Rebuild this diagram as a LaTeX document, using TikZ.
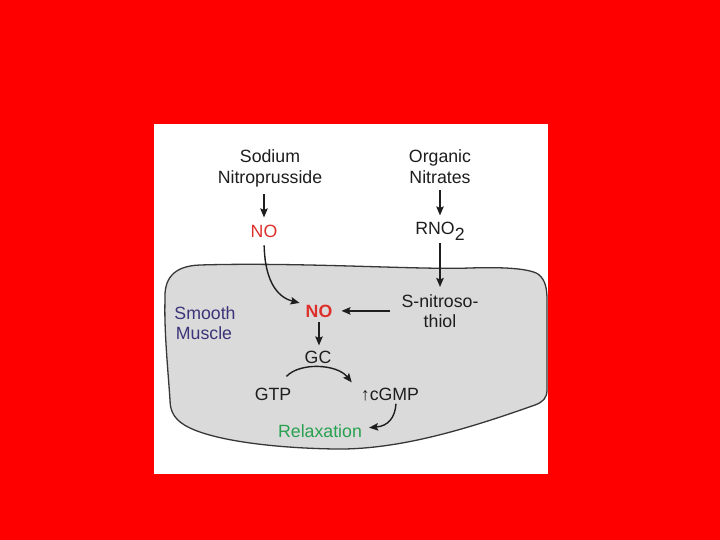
\documentclass[tikz,border=0pt]{standalone}
\usepackage{fontspec}
\setmainfont{Liberation Sans}
\usetikzlibrary{arrows.meta}
\definecolor{bgred}{RGB}{255,0,0}
\definecolor{cellgray}{RGB}{218,218,218}
\definecolor{edgegray}{RGB}{55,55,55}
\definecolor{nored}{RGB}{222,48,42}
\definecolor{relgreen}{RGB}{40,160,80}
\definecolor{musblue}{RGB}{60,52,120}
\definecolor{txt}{RGB}{30,30,30}
\begin{document}
\begin{tikzpicture}[x=1bp,y=-1bp,
  lbl/.style={inner sep=0pt, anchor=base, text=txt, font=\fontsize{17.8}{21}\selectfont},
  arr/.style={line width=1.4bp, draw=txt, -{Stealth[length=9bp,width=7.5bp,inset=1.5bp]}}]
\useasboundingbox (0,0) rectangle (720,540);
\fill[bgred] (0,0) rectangle (720,540);
\fill[white] (154,124) rectangle (548,474);
% cell
\filldraw[fill=cellgray, draw=edgegray, line width=1.3bp]
  (165,300) .. controls (164,280) and (172,266) .. (200,265)
  .. controls (300,262) and (420,270) .. (470,268)
  .. controls (500,267) and (528,268) .. (538,274)
  .. controls (546,280) and (547,290) .. (547,300)
  -- (547,390)
  .. controls (547,398) and (543,402) .. (535,405)
  .. controls (470,428) and (400,450) .. (335,449)
  .. controls (270,448) and (215,440) .. (190,428)
  .. controls (175,421) and (170,412) .. (170,400)
  .. controls (168,370) and (164,330) .. (165,300) -- cycle;
% labels
\node[lbl] (sod) at (270,163) {Sodium};
\node[lbl] (nitro) at (270,184) {Nitroprusside};
\node[lbl, text=nored] (no1) at (264,238) {NO};
\node[lbl] (org) at (440,163) {Organic};
\node[lbl] (nitr) at (440,184) {Nitrates};
\node[lbl] (rno) at (440,235) {RNO\raisebox{-6bp}{2}};
\node[lbl] (sn1) at (440,307) {S-nitroso-};
\node[lbl] (sn2) at (440,327) {thiol};
\node[lbl, text=musblue] (smooth) at (205,319) {Smooth};
\node[lbl, text=musblue] (muscle) at (204,339) {Muscle};
\node[lbl, text=nored, font=\fontsize{17.8}{21}\selectfont\bfseries] (no2) at (319,317) {NO};
\node[lbl] (gc) at (318,363) {GC};
\node[lbl] (gtp) at (273,400) {GTP};
\node[lbl] (cgmp) at (390,400) {↑cGMP};
\node[lbl, text=relgreen] (rel) at (320,437) {Relaxation};
% arrows
\draw[arr, shorten <=6bp, shorten >=8bp] (nitro.south -| no1.north) -- (no1.north);
\draw[arr, shorten <=6bp, shorten >=7bp] (nitr.south) -- (nitr.south |- rno.north);
\draw[arr, shorten <=2bp, shorten >=7bp] (rno.south -| sn1.north) -- (sn1.north);
\draw[arr, shorten <=11bp, shorten >=9bp] (sn1.west |- no2.east) -- (no2.east);
\draw[arr, shorten <=5bp, shorten >=5bp] (no2.south) -- (no2.south |- gc.north);
\draw[arr, shorten <=7bp, shorten >=2bp] (no1.south) .. controls (265,285) and (280,298) .. ([shift={(-4,-1)}]no2.north west);
\draw[arr] ([shift={(-5,-11)}]gtp.north east) .. controls (300,362) and (337,364) .. ([shift={(-9,-5)}]cgmp.north west);
\draw[arr] ([shift={(6,3)}]cgmp.south) .. controls (395,418) and (388,426) .. ([shift={(7,-3)}]rel.east);
\end{tikzpicture}
\end{document}
